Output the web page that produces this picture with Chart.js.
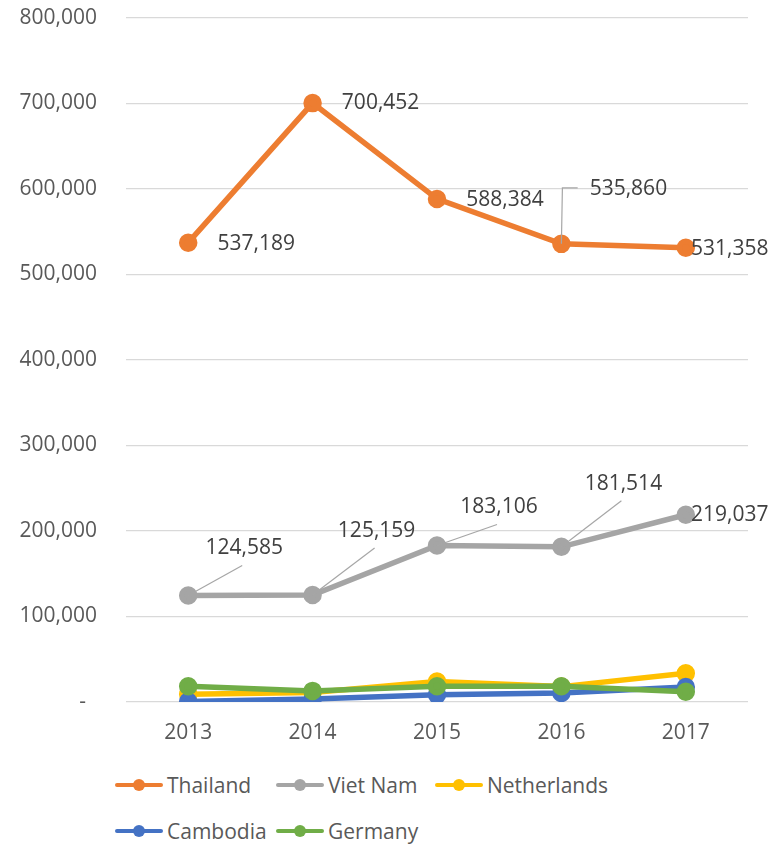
<!DOCTYPE html>
<html>
<head>
<meta charset="utf-8">
<script src="https://cdn.jsdelivr.net/npm/chart.js@4/dist/chart.umd.min.js"></script>
<style>
  html, body { margin: 0; padding: 0; background: #fff; }
  #wrap { position: relative; width: 784px; height: 845px; }
  #chartBox { position: absolute; left: 0; top: 0; width: 784px; height: 760px; }
  .lg { position: absolute; display: flex; align-items: center; height: 30px;
        font-family: "Open Sans", sans-serif; font-size: 21px; color: #595959; }
  .sw { position: relative; width: 48px; height: 30px; margin-right: 4px; }
  .sw .ln { position: absolute; left: 0; right: 0; top: 13px; height: 4px; border-radius: 2px; }
  .sw .dt { position: absolute; left: 18px; top: 9px; width: 12px; height: 12px; border-radius: 50%; }
</style>
</head>
<body>
<div id="wrap">
  <div id="chartBox"><canvas id="chart" width="784" height="760"></canvas></div>
  <div id="legend"></div>
</div>
<script>
// data
const years = ['2013', '2014', '2015', '2016', '2017'];
const seriesNames = ['Thailand', 'Viet Nam', 'Netherlands', 'Cambodia', 'Germany'];
const thailand = [537189, 700452, 588384, 535860, 531358];
const vietNam = [124585, 125159, 183106, 181514, 219037];
const netherlands = [9000, 11000, 24000, 18000, 33500];
const cambodia = [500, 3500, 8500, 10500, 17500];
const germany = [18500, 13000, 18500, 18500, 12000];
const yTicks = [0, 100000, 200000, 300000, 400000, 500000, 600000, 700000, 800000];

const colors = ['#ED7D31', '#A5A5A5', '#FFC000', '#4472C4', '#70AD47'];
const values = [thailand, vietNam, netherlands, cambodia, germany];

// label placement (text centre offset from point, leader style)
const labelStyle = {
  0: [
    { dx: 68, dy: 1, leader: null },
    { dx: 68, dy: 0, leader: null },
    { dx: 68, dy: 1, leader: null },
    { dx: 67, dy: -55, leader: 'elbow' },
    { dx: 44, dy: 1, leader: null }
  ],
  1: [
    { dx: 56, dy: -47, leader: 'bottom' },
    { dx: 64, dy: -64, leader: 'bottom' },
    { dx: 62, dy: -38, leader: 'bottom' },
    { dx: 62, dy: -63, leader: 'bottom' },
    { dx: 44, dy: 0, leader: null }
  ]
};

const fmt = v => v.toLocaleString('en-US');

const dataLabels = {
  id: 'dataLabels',
  afterDatasetsDraw(ch) {
    const ctx = ch.ctx;
    ctx.save();
    ctx.font = '21px "Open Sans", sans-serif';
    ctx.textAlign = 'center';
    ctx.textBaseline = 'middle';
    Object.keys(labelStyle).forEach(di => {
      const meta = ch.getDatasetMeta(+di);
      const vals = ch.data.datasets[di].data;
      meta.data.forEach((pt, i) => {
        const st = labelStyle[di][i];
        const tx = pt.x + st.dx, ty = pt.y + st.dy;
        const txt = fmt(vals[i]);
        const w = ctx.measureText(txt).width;
        ctx.strokeStyle = '#A6A6A6';
        ctx.lineWidth = 1.2;
        if (st.leader === 'bottom') {
          ctx.beginPath();
          ctx.moveTo(pt.x, pt.y);
          ctx.lineTo(tx - 2, ty + 17);
          ctx.stroke();
        } else if (st.leader === 'elbow') {
          ctx.beginPath();
          ctx.moveTo(pt.x, pt.y);
          ctx.lineTo(pt.x + 1, ty - 1);
          ctx.lineTo(tx - w / 2 - 12, ty - 1);
          ctx.stroke();
        }
        ctx.fillStyle = '#404040';
        ctx.fillText(txt, tx, ty);
      });
    });
    ctx.restore();
  }
};

const datasets = seriesNames.map((name, i) => ({
  label: name,
  data: values[i],
  borderColor: colors[i],
  backgroundColor: colors[i],
  pointBackgroundColor: colors[i],
  pointBorderColor: colors[i],
  borderWidth: 5.5,
  pointRadius: 6.5,
  pointHoverRadius: 6.5,
  tension: 0,
  order: seriesNames.length - i
}));

Chart.defaults.font.family = '"Open Sans", sans-serif';
Chart.defaults.font.size = 21;
Chart.defaults.color = '#595959';

const chart = new Chart(document.getElementById('chart').getContext('2d'), {
  type: 'line',
  data: { labels: years, datasets },
  options: {
    responsive: false,
    animation: false,
    layout: { padding: { top: 0, right: 36, bottom: 0, left: 0 } },
    plugins: { legend: { display: false }, tooltip: { enabled: false } },
    scales: {
      x: {
        offset: true,
        grid: { display: false, drawTicks: false },
        border: { display: false },
        ticks: { padding: 18, color: '#595959' },
        afterFit(s) { s.height = 58; }
      },
      y: {
        min: 0,
        max: 800000,
        afterBuildTicks(s) { s.ticks = yTicks.map(v => ({ value: v })); },
        grid: { color: '#D9D9D9', lineWidth: 1.3, drawTicks: false },
        border: { display: false },
        ticks: {
          padding: 29,
          color: '#595959',
          callback: v => v === 0 ? '-  ' : fmt(v)
        },
        afterFit(s) { s.width = 126; s.paddingTop = 18; }
      }
    }
  },
  plugins: [dataLabels]
});

// legend laid out like the original (two rows, fixed columns)
const legendPos = [[115, 770], [276, 770], [435, 770], [115, 816], [276, 816]];
const legendEl = document.getElementById('legend');
seriesNames.forEach((name, i) => {
  const item = document.createElement('div');
  item.className = 'lg';
  item.style.left = legendPos[i][0] + 'px';
  item.style.top = legendPos[i][1] + 'px';
  item.innerHTML = '<div class="sw"><div class="ln" style="background:' + colors[i] +
    '"></div><div class="dt" style="background:' + colors[i] + '"></div></div><span>' + name + '</span>';
  legendEl.appendChild(item);
});
</script>
</body>
</html>
